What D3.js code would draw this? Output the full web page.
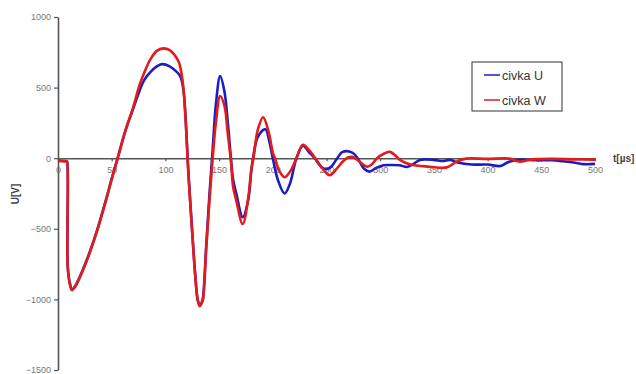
<!DOCTYPE html>
<html>
<head>
<meta charset="utf-8">
<script src="https://cdn.jsdelivr.net/npm/d3@7"></script>
<style>
  body { margin:0; background:#fff; }
  text { font-family:'Liberation Sans', Arial, sans-serif; }
  .axis path, .axis line { stroke:#555; }
  .axis text { fill:#777; font-size:9px; }
</style>
</head>
<body>
<svg id="viewer"></svg>
<script>
// time axis values (µs) and voltages (V)
var tU = [0,4,8,8.5,9,11,13,16,20,25,30,37,45,50,56,63,70,76,80,86,92,97,104,110,113,115,117,119,121,123,126,128,130,132,134,135,138,141,144,147,151,155,158,161,163,166,172,177,180,182,186,193,197,200,205,211,216,222,228,234,239,245,250,255,260,265,274,279,285,290,296,303,310,318,325,331,337,350,358,365,372,385,400,412,420,430,445,460,470,480,490,500];
var uU = [-18,-20,-22,-25,-760,-885,-930,-905,-845,-755,-655,-495,-285,-145,15,200,350,480,550,609,650,666,650,615,590,555,470,260,-40,-290,-640,-850,-1000,-1045,-1020,-990,-620,-260,60,380,581,470,260,0,-150,-250,-418,-300,-90,20,150,205,110,0,-160,-250,-180,0,88,40,0,-60,-78,-55,0,45,40,0,-75,-95,-70,-50,-48,-50,-62,-40,-12,-12,-20,-12,-30,-45,-45,-55,-25,-10,-15,-15,-22,-30,-42,-40];

var tW = [0,4,8,8.5,9,11,13,16,20,25,30,37,45,50,56,63,70,76,80,86,92,98,104,110,113,115,117,119,121,123,126,128,130,132,134,135,138,141,144,147,151,155,158,161,163,166,172,177,180,182,186,191,196,200,202,206,211,216,222,228,234,240,246,253,260,265,270,274,280,288,292,297,303,309,314,318,328,346,362,371,380,400,420,430,440,460,480,500];
var uW = [-18,-20,-22,-25,-760,-890,-935,-910,-850,-760,-660,-500,-290,-150,10,200,360,520,600,700,760,778,765,715,670,600,480,250,-60,-300,-645,-850,-1000,-1048,-1020,-1000,-645,-300,0,250,440,370,180,-20,-200,-300,-467,-290,-78,0,200,290,190,40,0,-90,-135,-95,0,95,55,-5,-70,-120,-70,-25,5,10,-20,-60,-45,0,30,45,20,-10,-45,-60,-65,-25,-3,-5,-3,-25,-10,-5,-8,-10];

var series = [
  {name:'civka U', t:tU, u:uU, color:'#1c1cc4'},
  {name:'civka W', t:tW, u:uW, color:'#e31b1b'}
];

var xTicks = [0,50,100,150,200,250,300,350,400,450,500];
var yTicks = [-1500,-1000,-500,0,500,1000];

var viewer = d3.select('#viewer')
  .attr('width',636)
  .attr('height',374);

var x = d3.scaleLinear().domain([0,500]).range([58,595]);
var y = d3.scaleLinear().domain([-1500,1000]).range([370,17]);

var yAxis = viewer.append('g')
  .attr('class','axis')
  .attr('transform','translate(58,0)')
  .call(d3.axisLeft(y).tickValues(yTicks).tickFormat(d3.format('d')).tickSize(4).tickSizeOuter(0).tickPadding(3));

var xAxis = viewer.append('g')
  .attr('class','axis')
  .attr('transform','translate(0,'+y(0)+')')
  .call(d3.axisBottom(x).tickValues(xTicks).tickFormat(d3.format('d')).tickSize(3).tickSizeOuter(0).tickPadding(5));

viewer.selectAll('.axis path').attr('stroke-width',1.6);
viewer.selectAll('.axis line').attr('stroke-width',1.2);

var line = d3.line()
  .x(function(d){return x(d[0]);})
  .y(function(d){return y(d[1]);})
  .curve(d3.curveCatmullRom.alpha(0.5));

viewer.selectAll('.trace')
  .data(series)
  .enter().append('path')
    .attr('class','trace')
    .attr('fill','none')
    .attr('stroke',function(d){return d.color;})
    .attr('stroke-width',2.6)
    .attr('stroke-linejoin','round')
    .attr('d',function(d){return line(d.t.map(function(t,i){return [t,d.u[i]];}));});

// axis titles
viewer.append('text')
  .attr('x',613)
  .attr('y',y(0)+3.5)
  .attr('font-size',10)
  .attr('font-weight','bold')
  .attr('fill','#444')
  .text('t[µs]');

viewer.append('text')
  .attr('transform','translate(19,'+194+') rotate(-90)')
  .attr('text-anchor','middle')
  .attr('font-size',10)
  .attr('font-weight','bold')
  .attr('fill','#444')
  .text('U[V]');

// legend
var legend = viewer.append('g').attr('transform','translate(472,62)');
legend.append('rect')
  .attr('width',90)
  .attr('height',49)
  .attr('fill','#fff')
  .attr('stroke','#333')
  .attr('stroke-width',1);

var items = legend.selectAll('.item')
  .data(series)
  .enter().append('g')
    .attr('class','item')
    .attr('transform',function(d,i){return 'translate(0,'+(13+i*25)+')';});

items.append('line')
  .attr('x1',12).attr('x2',28)
  .attr('stroke',function(d){return d.color;})
  .attr('stroke-width',1.5);

items.append('text')
  .attr('x',30)
  .attr('y',4.5)
  .attr('font-size',12.5)
  .attr('fill','#333')
  .text(function(d){return d.name;});
</script>
</body>
</html>
